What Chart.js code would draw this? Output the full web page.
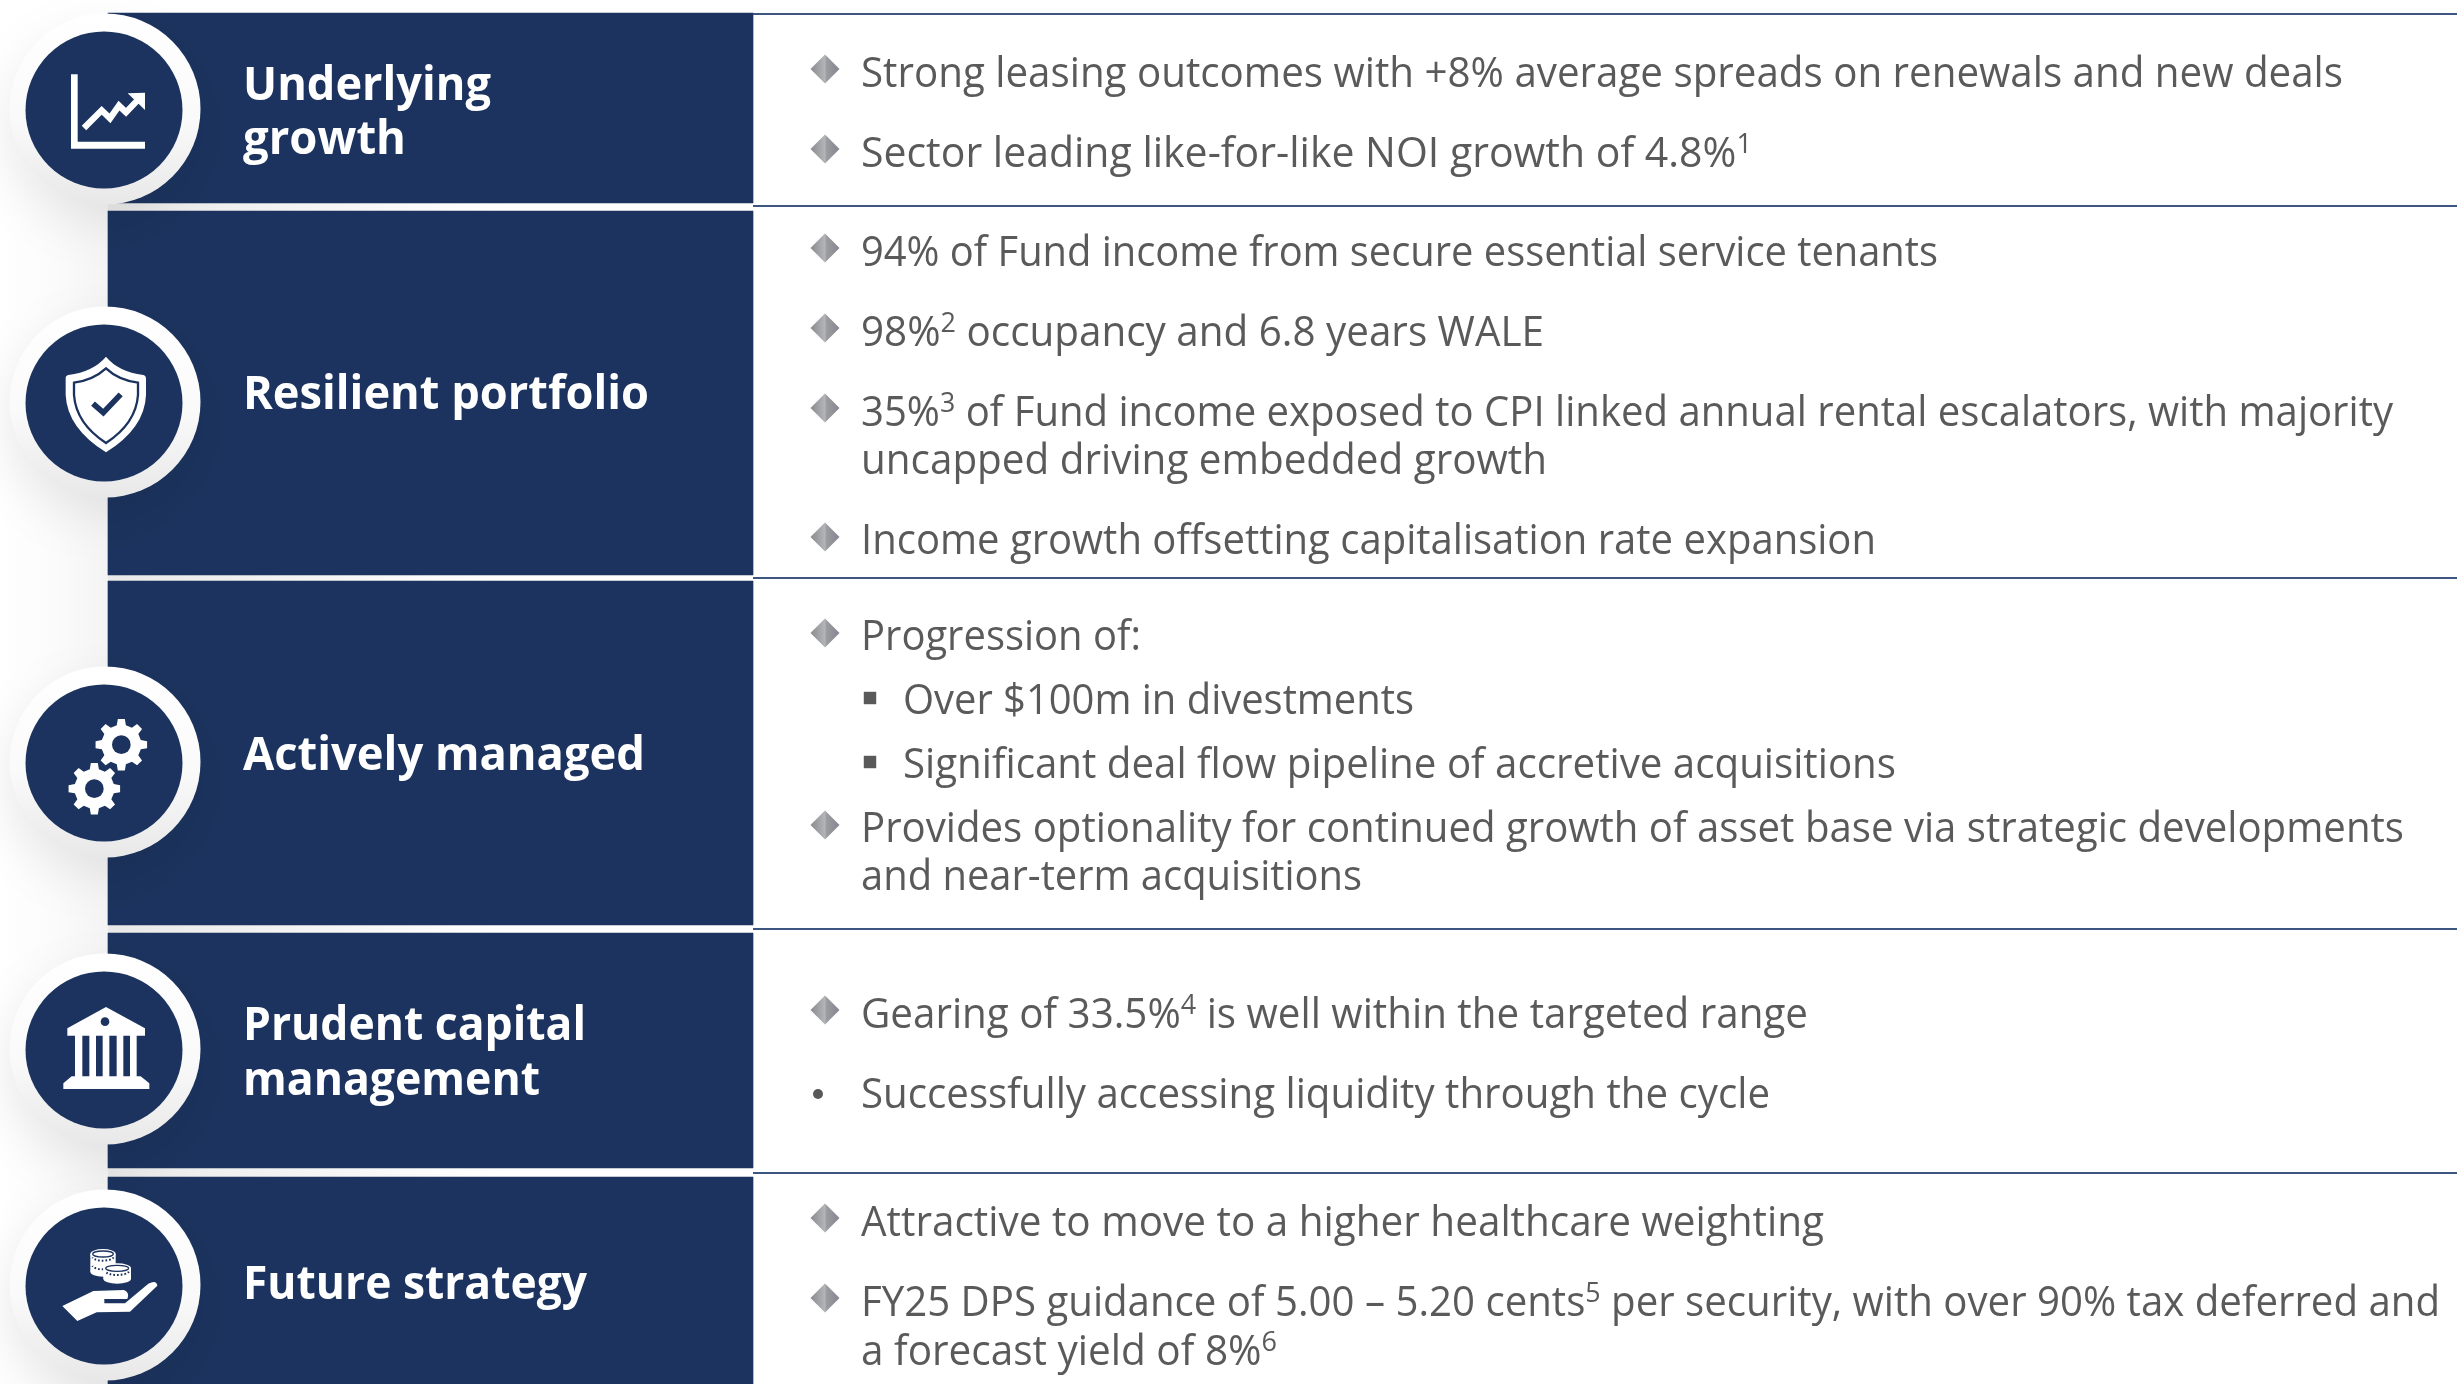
<!DOCTYPE html>
<html><head><meta charset="utf-8">
<style>html,body{margin:0;padding:0;background:#fff;overflow:hidden}canvas{display:block}</style>
<script src="https://cdn.jsdelivr.net/npm/chart.js@4"></script>
</head><body><canvas id="c" width="2457" height="1384"></canvas>
<script>
// Row extents (scale units = reference pixels)
const panelTop    = [13, 211, 581, 933, 1177];
const panelBottom = [203, 575, 925, 1168, 1384];
const ruleLevels  = [14, 206, 578, 929, 1173];
const circleLevels = [110, 403, 763, 1050, 1286];
const panelCentre = 430.5, circleCentre = 104, ruleStart = 753, ruleEnd = 2457;

const sectionLabels = [
  ["Underlying","growth"],["Resilient portfolio"],["Actively managed"],["Prudent capital","management"],["Future strategy"]
];
const sectionBaselines = [[100,154],[409],[770],[1040,1095],[1299]];
const sectionEnds = [[491,406],[649],[645],[586,540],[587]];
const sectionStarts = [[243,243],[243],[243],[243,243],[243]];

const bodyLines = [
 "Strong leasing outcomes with +8% average spreads on renewals and new deals",
 "Sector leading like-for-like NOI growth of 4.8%^1",
 "94% of Fund income from secure essential service tenants",
 "98%^2 occupancy and 6.8 years WALE",
 "35%^3 of Fund income exposed to CPI linked annual rental escalators, with majority",
 "uncapped driving embedded growth",
 "Income growth offsetting capitalisation rate expansion",
 "Progression of:",
 "Over $100m in divestments",
 "Significant deal flow pipeline of accretive acquisitions",
 "Provides optionality for continued growth of asset base via strategic developments",
 "and near-term acquisitions",
 "Gearing of 33.5%^4 is well within the targeted range",
 "Successfully accessing liquidity through the cycle",
 "Attractive to move to a higher healthcare weighting",
 "FY25 DPS guidance of 5.00 \u2013 5.20 cents^5 per security, with over 90% tax deferred and",
 "a forecast yield of 8%^6"
];
const bodyBaselines = [87,167,266,346,426,474,554,650,714,778,842,890,1028,1108,1236,1316,1365];
const bodyStarts = [861,861,861,861,861,861,861,861,903,903,861,861,861,861,861,861,861];
const bodyEnds = [2343,1752,1938,1544,2393,1547,1876,1141,1414,1896,2404,1362,1808,1770,1824,2440,1277];

const diamondLevels = [69,149,248,328,408,537,633,825,1010,1218,1298];
const squareLevels = [698,762];
const dotLevels = [1094];
const bulletX = 825, squareX = 870, dotX = 818;

const NAVY = '#1b335e';

// large round marks must not shrink the plot area
['scatter','line'].forEach(n=>{Chart.registry.getController(n).prototype.getMaxOverflow=()=>0;});

function ringFill(c){
  const s = c.chart.scales.y;
  if(!s || !c.raw) return '#f8f8f8';
  const p = s.getPixelForValue(c.raw.y);
  if(!isFinite(p)) return '#f8f8f8';
  const g = c.chart.ctx.createLinearGradient(0,p-96,0,p+96);
  g.addColorStop(0,'#ffffff');g.addColorStop(.55,'#fafafa');g.addColorStop(1,'#e8e8e8');
  return g;
}
function diamondFill(c){
  const s = c.chart.scales.x;
  const p = s ? s.getPixelForValue(bulletX) : NaN;
  if(!isFinite(p)) return '#9a9b9f';
  const g = c.chart.ctx.createLinearGradient(p-14,0,p+14,0);
  g.addColorStop(0,'#8a8c91');g.addColorStop(.5,'#b4b5b8');g.addColorStop(.55,'#9c9da1');g.addColorStop(1,'#858690');
  return g;
}

const pts = (x,ys)=>ys.map(y=>({x,y}));
const datasets = [];
datasets.push({type:'scatter',label:'circle',data:pts(circleCentre,circleLevels),pointStyle:'circle',pointRadius:78.5,pointHoverRadius:78.5,backgroundColor:NAVY,borderWidth:0,order:1,clip:false});
datasets.push({type:'scatter',label:'ring',data:pts(circleCentre+1,circleLevels.map(v=>v-1)),pointStyle:'circle',pointRadius:95.5,pointHoverRadius:95.5,backgroundColor:ringFill,borderWidth:0,order:2,clip:false});
datasets.push({type:'scatter',label:'diamonds',data:pts(bulletX,diamondLevels),pointStyle:'rectRot',pointRadius:14.5,backgroundColor:diamondFill,borderWidth:0,order:3});
datasets.push({type:'scatter',label:'squares',data:pts(squareX,squareLevels),pointStyle:'rect',pointRadius:8.8,backgroundColor:'#595959',borderWidth:0,order:3});
datasets.push({type:'scatter',label:'dots',data:pts(dotX,dotLevels),pointStyle:'circle',pointRadius:5,backgroundColor:'#595959',borderWidth:0,order:3});
ruleLevels.forEach((y,i)=>datasets.push({type:'line',label:'rule'+i,data:[{x:ruleStart,y},{x:ruleEnd,y}],borderColor:'#3d5581',borderWidth:2,pointRadius:0,order:4}));
datasets.push({type:'bar',label:'panels',data:panelTop.map((t,i)=>({x:panelCentre,y:[t,panelBottom[i]]})),backgroundColor:NAVY,borderWidth:0,barThickness:645,order:5});

const backdrop = {id:'backdrop',beforeDatasetsDraw(ch){
  const c=ch.ctx;c.save();
  let g=c.createLinearGradient(0,0,108,0);
  g.addColorStop(0,'#ffffff');g.addColorStop(.5,'#fbfbfb');g.addColorStop(1,'#f4f4f4');
  c.fillStyle=g;c.fillRect(0,120,108,1264);
  let v=c.createLinearGradient(0,120,0,200);
  v.addColorStop(0,'rgba(255,255,255,1)');v.addColorStop(1,'rgba(255,255,255,0)');
  c.fillStyle=v;c.fillRect(0,120,108,80);
  panelBottom.slice(0,4).forEach((b,i)=>{
    const yb=ch.scales.y.getPixelForValue(b),yt=ch.scales.y.getPixelForValue(panelTop[i+1]);
    const h=c.createLinearGradient(108,0,500,0);
    h.addColorStop(0,'#e9e9e9');h.addColorStop(1,'#ffffff');
    c.fillStyle=h;c.fillRect(108,yb,645,yt-yb);
  });
  c.restore();
}};
const ringShadow = {id:'ringShadow',
  beforeDatasetDraw(ch,a){ if(ch.data.datasets[a.index].label==='ring'){const c=ch.ctx;c.save();c.shadowColor='rgba(0,0,0,.08)';c.shadowBlur=48;c.shadowOffsetX=-4;c.shadowOffsetY=20;}},
  afterDatasetDraw(ch,a){ if(ch.data.datasets[a.index].label==='ring'){ch.ctx.restore();}}
};

function gear(c,cx,cy,ro,ri,hole){
  c.fillStyle='#fff';c.beginPath();
  for(let i=0;i<8;i++){
    const a=-Math.PI/2+i*Math.PI/4, w=.135, w2=.2;
    const pp=[[ri,a-w2-.03],[ro,a-w],[ro,a+w],[ri,a+w2+.03]];
    pp.forEach(([r,t],k)=>{const X=cx+r*Math.cos(t),Y=cy+r*Math.sin(t);(i===0&&k===0)?c.moveTo(X,Y):c.lineTo(X,Y);});
  }
  c.closePath();c.lineJoin='round';c.fill();
  c.fillStyle=NAVY;c.beginPath();c.arc(cx,cy,hole,0,Math.PI*2);c.fill();
}
function poly(c,arr,color){c.fillStyle=color||'#fff';c.beginPath();arr.forEach((p,i)=>i?c.lineTo(p[0],p[1]):c.moveTo(p[0],p[1]));c.closePath();c.fill();}
function coins(c,x0,x1,top,bot){
  const cx=(x0+x1)/2,rx=(x1-x0)/2,ry=15;
  c.fillStyle='#fff';c.beginPath();c.ellipse(cx,top+ry,rx,ry,0,0,Math.PI*2);c.fill();
  c.beginPath();c.ellipse(cx,bot-ry,rx,ry,0,0,Math.PI*2);c.fill();c.fillRect(x0,top+ry,x1-x0,bot-top-2*ry);
  c.strokeStyle=NAVY;c.lineWidth=4;c.beginPath();c.ellipse(cx,top+ry,rx-7,ry-6,0,0,Math.PI*2);c.stroke();
  c.setLineDash([5,6]);c.lineWidth=6;
  for(let yy=top+ry+16;yy<bot-8;yy+=26){c.beginPath();c.ellipse(cx,yy-8,rx-6,ry-3,0,.15,Math.PI-.15);c.stroke();}
  c.setLineDash([]);
}
const icons = [
 c=>{ poly(c,[[63,58],[83,58],[83,260],[285,260],[285,281],[63,281]]);
      c.strokeStyle='#fff';c.lineWidth=19;c.lineJoin='miter';c.beginPath();
      c.moveTo(102,219);c.lineTo(155,166);c.lineTo(180,190);c.lineTo(207,152);c.lineTo(228,172);c.lineTo(268,130);c.stroke();
      poly(c,[[233,115],[285,113],[285,165]]); },
 c=>{ c.fillStyle='#fff';c.beginPath();c.moveTo(168,35);c.quadraticCurveTo(130,80,55,90);c.quadraticCurveTo(46,92,47,102);c.lineTo(47,150);
      c.quadraticCurveTo(52,250,168,322);c.quadraticCurveTo(284,250,288,150);c.lineTo(288,102);c.quadraticCurveTo(288,92,280,90);c.quadraticCurveTo(205,80,168,35);c.fill();
      c.strokeStyle=NAVY;c.lineWidth=7;c.beginPath();c.moveTo(168,70);c.quadraticCurveTo(130,105,72,113);c.lineTo(72,150);c.quadraticCurveTo(78,235,168,294);c.quadraticCurveTo(258,235,264,150);c.lineTo(264,113);c.quadraticCurveTo(205,105,168,70);c.closePath();c.stroke();
      c.lineWidth=17;c.lineJoin='miter';c.beginPath();c.moveTo(129,176);c.lineTo(160,203);c.lineTo(212,148);c.stroke(); },
 c=>{ gear(c,214,110,78,60,28);gear(c,133,242,78,60,28); },
 c=>{ poly(c,[[168,36],[285,100],[285,122],[52,122],[52,100]]);
      c.fillStyle=NAVY;c.beginPath();c.arc(165,80,13,0,Math.PI*2);c.fill();
      [[75,97],[118,138],[158,178],[200,220],[240,260]].forEach(([a,b])=>{c.fillStyle='#fff';c.fillRect(a,120,b-a,126);});
      poly(c,[[65,244],[272,244],[298,265],[298,282],[40,282],[40,265]]); },
 c=>{ coins(c,121,197,42,125);coins(c,160,243,85,146);
      c.fillStyle='#fff';c.beginPath();c.moveTo(37,213);c.lineTo(130,168);c.lineTo(222,165);c.quadraticCurveTo(240,172,232,192);c.lineTo(163,192);c.lineTo(163,205);c.lineTo(225,205);c.lineTo(295,146);c.quadraticCurveTo(320,134,322,152);c.lineTo(240,230);c.lineTo(140,232);c.lineTo(82,258);c.closePath();c.fill(); }
];
const iconOrigins = [[50,55],[50,345],[50,708],[50,995],[50,1235]];

function fitText(c,str,x0,x1,y,font){
  const runs=[];const re=/\^(\d)/g;let last=0,m;
  while((m=re.exec(str))){runs.push([str.slice(last,m.index),false]);runs.push([m[1],true]);last=re.lastIndex;}
  runs.push([str.slice(last),false]);
  const size=font.size;
  const fBody=`${font.weight} ${size}px ${font.family}`, fSup=`${font.weight} ${Math.round(size*.66)}px ${font.family}`;
  let w=0;runs.forEach(([t,s])=>{c.font=s?fSup:fBody;w+=c.measureText(t).width;});
  const sx=(x1-x0)/w;
  c.save();c.translate(x0,y);c.scale(sx,1);c.textBaseline='alphabetic';c.textAlign='left';
  let cur=0;runs.forEach(([t,s])=>{c.font=s?fSup:fBody;c.fillText(t,cur,s?-size*.34:0);cur+=c.measureText(t).width;});
  c.restore();
}
const overlay = {id:'overlay',afterDatasetsDraw(ch){
  const c=ch.ctx,X=ch.scales.x,Y=ch.scales.y;
  iconOrigins.forEach(([ox,oy],i)=>{c.save();c.translate(X.getPixelForValue(ox),Y.getPixelForValue(oy));c.scale(1/3,1/3);icons[i](c);c.restore();});
  c.fillStyle='#ffffff';
  sectionLabels.forEach((ls,i)=>ls.forEach((t,j)=>fitText(c,t,X.getPixelForValue(sectionStarts[i][j]),X.getPixelForValue(sectionEnds[i][j]),Y.getPixelForValue(sectionBaselines[i][j]),{weight:700,size:46,family:'"Open Sans"'})));
  c.fillStyle='#5a5a5a';
  bodyLines.forEach((t,i)=>fitText(c,t,X.getPixelForValue(bodyStarts[i]),X.getPixelForValue(bodyEnds[i]),Y.getPixelForValue(bodyBaselines[i]),{weight:400,size:42,family:'"Open Sans"'}));
}};

new Chart(document.getElementById('c'),{
  type:'bar',
  data:{datasets},
  plugins:[backdrop,ringShadow,overlay],
  options:{responsive:false,animation:false,devicePixelRatio:1,
    layout:{padding:0},
    plugins:{legend:{display:false},tooltip:{enabled:false},title:{display:false}},
    events:[],
    scales:{
      x:{type:'linear',min:0,max:2457,offset:false,display:false},
      y:{type:'linear',min:0,max:1384,reverse:true,display:false}
    }
  }
});
</script></body></html>
